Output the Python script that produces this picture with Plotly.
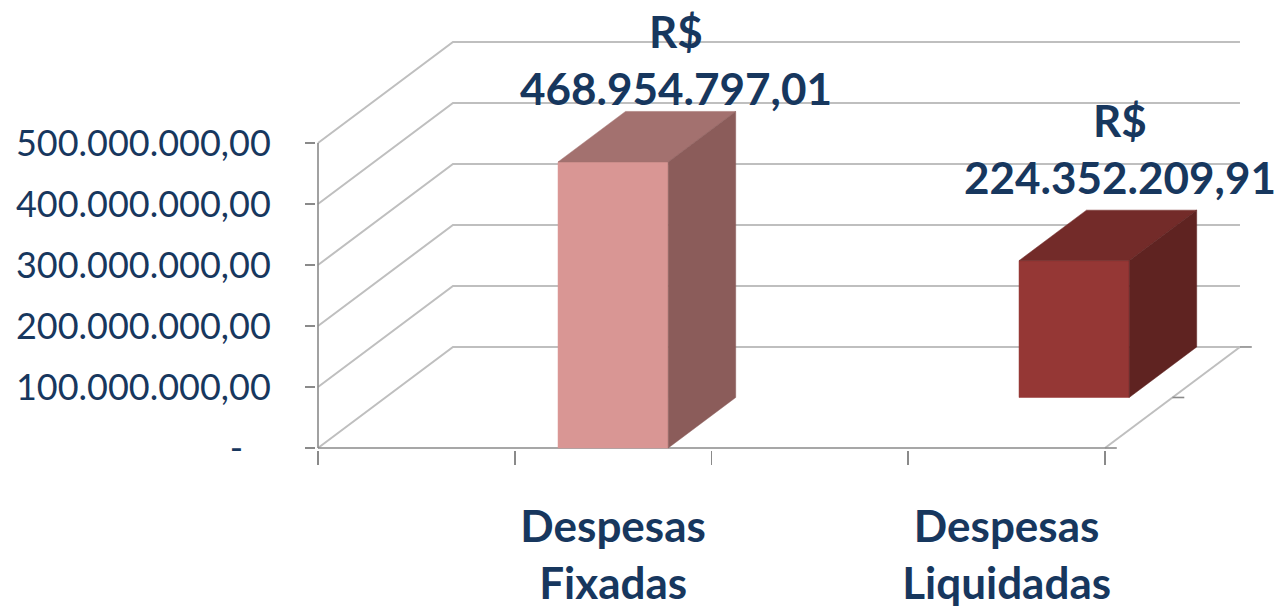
import plotly.graph_objects as go

# ---------------- data ----------------
categories = ["Despesas Fixadas", "Despesas Liquidadas"]
values = [468954797.01, 224352209.91]
y_tick_values = [0, 100e6, 200e6, 300e6, 400e6, 500e6]
y_tick_labels = ["-\u00a0\u00a0\u00a0", "100.000.000,00", "200.000.000,00",
                 "300.000.000,00", "400.000.000,00", "500.000.000,00"]
front_colors = ["#D99694", "#953735"]
top_colors = ["#A3716F", "#732B29"]
side_colors = ["#8B5C5A", "#5F2321"]


def brl(v):
    s = f"{v:,.2f}".replace(",", "X").replace(".", ",").replace("X", ".")
    return "R$<br>" + s


# ---------------- geometry (in axis units) ----------------
N = len(categories)
BAR_W = 0.28
ROW_DX = 0.1715          # oblique depth offset per series row (x units)
ROW_DY = 82.8e6          # oblique depth offset per series row (y units)
DEPTH_DX = ROW_DX * N
DEPTH_DY = ROW_DY * N
GRID = "#BFBFBF"
AXIS = "#8A8A8A"
NAVY = "#17375E"

fig = go.Figure()


def line(xs, ys, color, width):
    fig.add_trace(go.Scatter(x=xs, y=ys, mode="lines",
                             line=dict(color=color, width=width),
                             hoverinfo="skip", showlegend=False))


def poly(xs, ys, color):
    fig.add_trace(go.Scatter(x=xs + [xs[0]], y=ys + [ys[0]], mode="lines",
                             fill="toself", fillcolor=color,
                             line=dict(color=color, width=0.5),
                             hoverinfo="skip", showlegend=False))


# walls: left wall oblique lines + back wall horizontal lines
for v in y_tick_values:
    line([0, DEPTH_DX, N + DEPTH_DX], [v, v + DEPTH_DY, v + DEPTH_DY], GRID, 2)

# floor right edge
line([N, N + DEPTH_DX], [0, DEPTH_DY], GRID, 2)
# front floor edge (category axis line) and value axis line
line([0, N], [0, 0], AXIS, 1.6)
line([0, 0], [0, y_tick_values[-1]], AXIS, 1.6)
# depth axis ticks
for r in range(N + 1):
    line([N + r * ROW_DX, N + r * ROW_DX + 0.03], [r * ROW_DY, r * ROW_DY], AXIS, 1.6)

# bars (back row first)
bars = []
for i in range(N):
    xc = i + 0.75
    ox, oy = i * ROW_DX, i * ROW_DY
    x0, x1 = xc - BAR_W / 2 + ox, xc + BAR_W / 2 + ox
    y0, y1 = oy, oy + values[i]
    bars.append((i, x0, x1, y0, y1))

for i, x0, x1, y0, y1 in reversed(bars):
    poly([x0, x1, x1, x0], [y0, y0, y1, y1], front_colors[i])
    poly([x0, x1, x1 + ROW_DX, x0 + ROW_DX], [y1, y1, y1 + ROW_DY, y1 + ROW_DY], top_colors[i])
    poly([x1, x1 + ROW_DX, x1 + ROW_DX, x1], [y0, y0 + ROW_DY, y1 + ROW_DY, y1], side_colors[i])

label_xshift = [-5, -22]
label_yshift = [-4, 6]
for i, x0, x1, y0, y1 in bars:
    fig.add_annotation(x=(x0 + x1) / 2 + ROW_DX, y=y1 + ROW_DY, text=brl(values[i]),
                       showarrow=False, xanchor="center", yanchor="bottom",
                       xshift=label_xshift[i], yshift=label_yshift[i], borderpad=0,
                       font=dict(family="Lato", size=44, weight="bold", color=NAVY))

PX_PER_X = 393.5
PX_PER_Y = 0.61e-6
fig.update_layout(
    width=1280, height=610,
    margin=dict(l=316, r=0, t=0, b=160),
    paper_bgcolor="white", plot_bgcolor="white",
    showlegend=False,
    hovermode=False,
    xaxis=dict(range=[-2 / PX_PER_X, (1280 - 318) / PX_PER_X], showgrid=False, zeroline=False,
               showline=False, tickmode="array",
               tickvals=[i + 0.75 for i in range(N)],
               ticktext=[c.replace(" ", "<br>") for c in categories],
               ticks="", ticklabelstandoff=47,
               tickfont=dict(family="Lato", size=44, weight="bold", color=NAVY),
               minor=dict(tickmode="array", tickvals=[k * 0.5 for k in range(2 * N + 1)],
                          ticks="outside", ticklen=14, tickcolor=AXIS, tickwidth=1.6,
                          showgrid=False),
               fixedrange=True),
    yaxis=dict(range=[-2 / PX_PER_Y, 448 / PX_PER_Y], showgrid=False, zeroline=False,
               showline=False, tickmode="array", tickvals=y_tick_values,
               ticktext=y_tick_labels, ticks="outside", ticklen=10,
               tickcolor=AXIS, tickwidth=1.6, ticklabelstandoff=27,
               tickfont=dict(family="Lato", size=36, color=NAVY),
               fixedrange=True),
)

fig.write_html("out.html", config={"displayModeBar": False, "staticPlot": True},
               post_script="document.body.style.margin='0';document.body.style.overflow='hidden';")
